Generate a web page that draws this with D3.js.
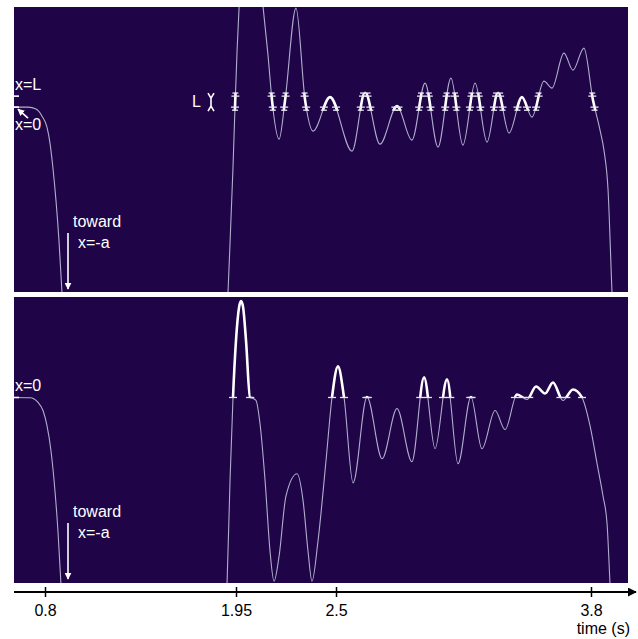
<!DOCTYPE html>
<html>
<head>
<meta charset="utf-8">
<title>position vs time</title>
<script src="https://d3js.org/d3.v7.min.js"></script>
<style>
  body { margin:0; background:#fff; }
  svg { display:block; font-family: "Liberation Sans", Arial, sans-serif; }
  .panel { fill:#1f0547; }
  .trace { fill:none; stroke:#b0aecd; stroke-width:1.1px; }
  .hilite { fill:none; stroke:#fff; stroke-width:2.6px; }
  .lbl { fill:#fff; font-size:16px; }
  .mark { stroke:#e6e4f0; stroke-width:1.3px; }
  .white { stroke:#fff; stroke-width:1.6px; fill:none; }
  .axis text { font-size:16px; fill:#000; font-family: "Liberation Sans", Arial, sans-serif; }
</style>
</head>
<body>
<svg id="chart" width="638" height="639"></svg>
<script>

// ---- data ----
// labelled times on the axis (s)
const tickTimes = [0.8, 1.95, 2.5, 3.8];

// upper trace: position in units of L (0 = x=0, 1 = x=L)
const upperTime = [0.613,0.698,0.746,0.782,0.812,0.830,0.848,0.866,0.884,0.902,0.920,1.402,1.884,1.902,1.932,1.944,1.956,1.967,1.989,2.027,2.066,2.099,2.126,2.148,2.187,2.220,2.280,2.330,2.374,2.467,2.582,2.648,2.724,2.811,2.887,2.954,3.020,3.086,3.147,3.209,3.270,3.326,3.382,3.448,3.499,3.560,3.601,3.662,3.708,3.764,3.810,3.846,3.866,3.887,3.907,3.922];
const upperPos  = [0,0,-0.18,-0.82,-1.82,-3.27,-5.55,-8.45,-12.09,-16.82,-21.2,-40,-23.9,-16.82,-5.45,0,5.18,9.09,15.2,18.8,15.2,9.09,4.73,0.64,-2.91,0.64,9.0,0.64,-2.18,0.91,-4.0,1.36,-3.36,0.09,-3.0,2.18,-3.64,2.64,-3.45,2.18,-3.18,1.36,-2.36,0.91,-0.91,2.36,1.73,4.91,3.36,5.36,0.64,-2.09,-3.91,-7.55,-16.82,-23.0];

// lower trace: same units, 0 = x=0
const lowerTime = [0.613,0.710,0.758,0.788,0.812,0.836,0.860,0.878,0.896,0.914,1.402,1.878,1.896,1.914,1.932,1.950,1.967,1.978,1.989,2.005,2.027,2.044,2.060,2.082,2.110,2.137,2.159,2.187,2.225,2.286,2.319,2.346,2.368,2.401,2.445,2.478,2.510,2.541,2.587,2.658,2.735,2.811,2.887,2.949,3.005,3.066,3.122,3.188,3.244,3.311,3.362,3.423,3.474,3.520,3.566,3.606,3.657,3.708,3.754,3.795,3.831,3.861,3.882,3.897,3.912];
const lowerPos  = [0,-0.02,-0.45,-1.18,-2.55,-4.82,-8.45,-12.09,-16.9,-22.1,-40,-22.1,-16.9,-7.55,0,5.18,8.18,8.73,8.18,5.18,0,-0.09,-0.27,-2.36,-7.55,-13.9,-16.64,-14.36,-8.9,-6.91,-9.36,-13.9,-16.64,-13.0,-5.73,0,2.82,0,-7.73,0.05,-5.55,-1.0,-5.82,1.82,-4.64,1.64,-6.0,0.05,-4.64,-1.18,-2.91,0.27,-0.18,1.0,0.36,1.36,-0.27,0.73,0,-2.55,-6.0,-8.9,-11.45,-16.9,-22.1];

// value range shown in each panel (units of L)
const posDomain = [-16.8, 9.1];

// ---- layout ----
const svg = d3.select("#chart");
const left = 14, right = 628;
const axisY = 592;

// the time axis is schematic: each labelled interval has its own spacing
const x = d3.scaleLinear().domain(tickTimes).range([45, 236, 336, 591]);

const panels = [
  { id:"up",  top:7,   bottom:292, time:upperTime, pos:upperPos },
  { id:"low", top:297, bottom:583, time:lowerTime, pos:lowerPos }
];

const defs = svg.append("defs");
defs.append("marker").attr("id","arrW").attr("viewBox","0 0 10 10")
    .attr("refX",9).attr("refY",5).attr("markerWidth",7).attr("markerHeight",7)
    .attr("markerUnits","userSpaceOnUse").attr("orient","auto")
  .append("path").attr("d","M0,0 L10,5 L0,10 z").attr("fill","#fff");
defs.append("marker").attr("id","arrK").attr("viewBox","0 0 10 10")
    .attr("refX",9).attr("refY",5).attr("markerWidth",9).attr("markerHeight",9)
    .attr("markerUnits","userSpaceOnUse").attr("orient","auto")
  .append("path").attr("d","M0,0 L10,5 L0,10 z").attr("fill","#000");

// find x positions where a drawn path crosses a horizontal level
function crossings(node, levelY, minX) {
  const len = node.getTotalLength();
  const out = [];
  let prev = node.getPointAtLength(0);
  for (let s = 0.5; s <= len; s += 0.5) {
    const p = node.getPointAtLength(s);
    if ((prev.y - levelY) * (p.y - levelY) < 0 && p.x > minX) {
      out.push(prev.x + (p.x - prev.x) * (levelY - prev.y) / (p.y - prev.y));
    }
    prev = p;
  }
  return out;
}

panels.forEach(pn => {
  const y = d3.scaleLinear().domain(posDomain).range([pn.bottom, pn.top]);
  pn.y = y;
  const data = pn.time.map((t, i) => ({ t: t, v: pn.pos[i] }));
  const line = d3.line().x(d => x(d.t)).y(d => y(d.v)).curve(d3.curveMonotoneX);

  const g = svg.append("g");
  g.append("rect").attr("class","panel")
   .attr("x", left).attr("y", pn.top).attr("width", right - left).attr("height", pn.bottom - pn.top);

  defs.append("clipPath").attr("id","clip-" + pn.id)
    .append("rect").attr("x", left).attr("y", pn.top).attr("width", right - left).attr("height", pn.bottom - pn.top);

  // highlight zone: inside the L band (upper) / above x=0 (lower)
  let hTop, hBot;
  if (pn.id === "up") { hTop = y(1.3); hBot = y(-0.3); }
  else { hTop = pn.top; hBot = y(0); }
  defs.append("clipPath").attr("id","hclip-" + pn.id)
    .append("rect").attr("x", x(1.5)).attr("y", hTop).attr("width", right - x(1.5)).attr("height", hBot - hTop);

  const trace = g.append("path").datum(data).attr("class","trace")
     .attr("clip-path","url(#clip-" + pn.id + ")").attr("d", line);
  g.append("path").datum(data).attr("class","hilite")
     .attr("clip-path","url(#hclip-" + pn.id + ")").attr("d", line);

  // crossing marks
  const minX = x(1.5);
  const levels = pn.id === "up"
      ? [{ v:0, out:-0.28 }, { v:1, out:1.28 }]
      : [{ v:0, out:null }];
  levels.forEach(lv => {
    const ly = y(lv.v);
    const xs = crossings(trace.node(), ly, minX);
    g.selectAll(null).data(xs).join("line").attr("class","mark")
      .attr("x1", d => d - 4).attr("x2", d => d + 4).attr("y1", ly).attr("y2", ly);
    if (lv.out !== null) {
      g.selectAll(null).data(xs).join("line").attr("class","mark")
        .attr("x1", d => d - 3).attr("x2", d => d + 3).attr("y1", y(lv.out)).attr("y2", y(lv.out));
    }
  });

  // left edge level ticks
  const edgeLevels = pn.id === "up" ? [0, 1] : [0];
  g.selectAll(null).data(edgeLevels).join("line").attr("class","white")
    .attr("stroke-width", 2)
    .attr("x1", left).attr("x2", left + 5).attr("y1", d => y(d)).attr("y2", d => y(d));

  // "toward x=-a" arrow
  g.append("line").attr("class","white").attr("x1", 68).attr("x2", 68)
    .attr("y1", pn.top + 226).attr("y2", pn.top + 282).attr("marker-end","url(#arrW)");
  g.append("text").attr("class","lbl").attr("x", 73).attr("y", pn.top + 220).text("toward");
  g.append("text").attr("class","lbl").attr("x", 78).attr("y", pn.top + 241).text("x=-a");
});

// upper panel labels
const yu = panels[0].y, yl = panels[1].y;
svg.append("text").attr("class","lbl").attr("x", 15).attr("y", yu(1) - 6).text("x=L");
svg.append("text").attr("class","lbl").attr("x", 15).attr("y", yu(0) + 23).text("x=0");
svg.append("line").attr("class","white").attr("x1", 28).attr("y1", yu(0) + 11)
   .attr("x2", 18).attr("y2", yu(0) + 2).attr("marker-end","url(#arrW)");

// L width indicator
const lx = 211, lt = yu(1), lb = yu(0);
svg.append("text").attr("class","lbl").attr("font-size", 14).attr("x", 192).attr("y", lb).text("L");
svg.append("path").attr("class","white").attr("stroke-width", 1.2)
   .attr("d", `M${lx-3},${lt-3} L${lx},${lt+2} L${lx+3},${lt-3} M${lx},${lt+2} V${lb-1} M${lx-3},${lb+4} L${lx},${lb-1} L${lx+3},${lb+4}`);

// lower panel label
svg.append("text").attr("class","lbl").attr("x", 15).attr("y", yl(0) - 6).text("x=0");

// ---- time axis ----
svg.append("line").attr("x1", left).attr("x2", 636).attr("y1", axisY).attr("y2", axisY)
   .attr("stroke","#000").attr("stroke-width", 2).attr("marker-end","url(#arrK)");
const axis = svg.append("g").attr("class","axis").attr("transform", `translate(0,${axisY})`)
   .call(d3.axisBottom(x).tickValues(tickTimes).tickFormat(d3.format("")).tickSize(5).tickPadding(8));
axis.select(".domain").remove();
axis.selectAll(".tick line").attr("y1", -5).attr("stroke-width", 1.5);
svg.append("text").attr("x", 630).attr("y", 634).attr("text-anchor","end")
   .attr("font-size", 16).text("time (s)");

</script>
</body>
</html>
